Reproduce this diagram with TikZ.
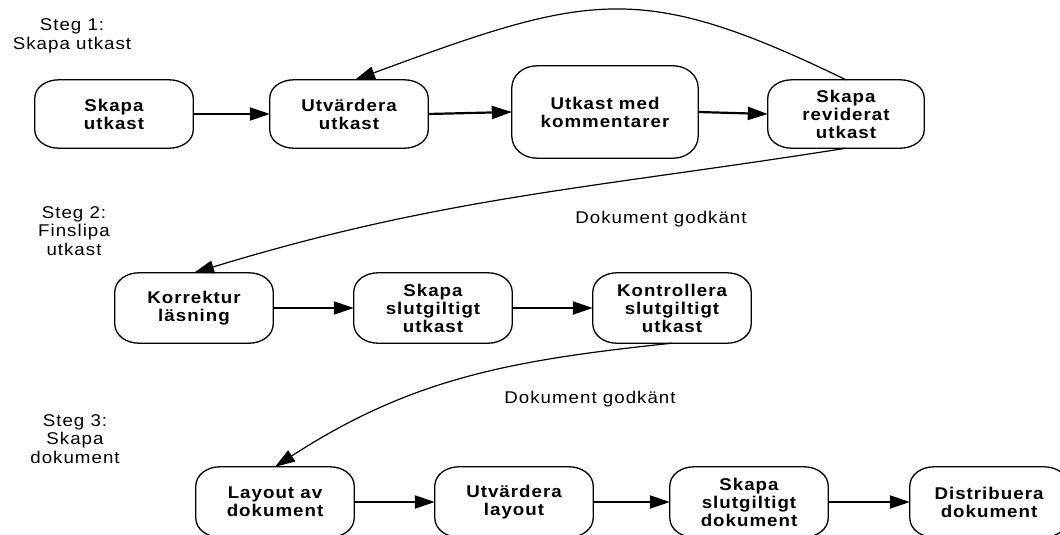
\documentclass[tikz,border=0pt]{standalone}
\usepackage{fontspec}
\setmainfont{Liberation Sans}[FakeStretch=1.1, LetterSpace=6]
\usetikzlibrary{arrows.meta}

% rounded process box outline with elliptical corners, drawn round a named node
\newcommand\pillbox[3]{%
  \draw[boxline]
    ([xshift=#2]#1.north west) -- ([xshift=-#2]#1.north east)
    arc[start angle=90, end angle=0, x radius=#2, y radius=#3]
    -- ([yshift=#3]#1.south east)
    arc[start angle=0, end angle=-90, x radius=#2, y radius=#3]
    -- ([xshift=#2]#1.south west)
    arc[start angle=270, end angle=180, x radius=#2, y radius=#3]
    -- ([yshift=-#3]#1.north west)
    arc[start angle=180, end angle=90, x radius=#2, y radius=#3] -- cycle;}

\tikzset{
  proc/.style={minimum width=158pt, minimum height=68pt, inner sep=0pt,
    align=center, font=\bfseries\fontsize{17}{18}\selectfont},
  lbl/.style={align=center, inner sep=0pt, font=\fontsize{17}{18.5}\selectfont},
  boxline/.style={line width=1.3pt},
  tip/.style={-{Triangle[length=20pt,width=13pt]}},
  flow/.style={tip, line width=2.2pt},
  back/.style={tip, line width=1.2pt},
}

\begin{document}
\begin{tikzpicture}[x=1pt, y=-1pt]
\useasboundingbox (0,0) rectangle (1060,535);

% stage labels
\node[lbl] (s1) at (72,36)  {Steg 1:\\Skapa utkast};
\node[lbl] (s2) at (74,231) {Steg 2:\\Finslipa\\utkast};
\node[lbl] (s3) at (75,439) {Steg 3:\\Skapa\\dokument};

% step 1
\node[proc] (a1) at (114,114) {Skapa\\utkast};
\node[proc] (a2) at (349,114) {Utvärdera\\utkast};
\node[proc, minimum width=186pt, minimum height=92pt] (a3) at (605,112) {Utkast med\\kommentarer};
\node[proc, minimum width=156pt] (a4) at (846,114) {Skapa\\reviderat\\utkast};

% step 2
\node[proc, minimum height=70pt] (b1) at (194,308) {Korrektur\\läsning};
\node[proc, minimum height=70pt] (b2) at (433,308) {Skapa\\slutgiltigt\\utkast};
\node[proc, minimum height=70pt] (b3) at (672,308) {Kontrollera\\slutgiltigt\\utkast};

% step 3
\node[proc, minimum height=70pt] (c1) at (275,502) {Layout av\\dokument};
\node[proc, minimum height=70pt] (c2) at (514,502) {Utvärdera\\layout};
\node[proc, minimum height=70pt] (c3) at (749,502) {Skapa\\slutgiltigt\\dokument};
\node[proc, minimum height=70pt] (c4) at (989,502) {Distribuera\\dokument};

\pillbox{a1}{24pt}{18pt}
\pillbox{a2}{24pt}{18pt}
\pillbox{a3}{25pt}{22pt}
\pillbox{a4}{24pt}{18pt}
\pillbox{b1}{24pt}{19pt}
\pillbox{b2}{24pt}{19pt}
\pillbox{b3}{24pt}{19pt}
\pillbox{c1}{24pt}{19pt}
\pillbox{c2}{24pt}{19pt}
\pillbox{c3}{24pt}{19pt}
\pillbox{c4}{24pt}{19pt}

% approval labels
\node[lbl] (g1) at (661,219) {Dokument godkänt};
\node[lbl] (g2) at (590,399) {Dokument godkänt};

% forward flow
\draw[flow] (a1.east) -- (a2.west);
\draw[flow] (a2.east) -- (a3.west);
\draw[flow] (a3.east) -- (a4.west);
\draw[flow] (b1.east) -- (b2.west);
\draw[flow] (b2.east) -- (b3.west);
\draw[flow] (c1.east) -- (c2.west);
\draw[flow] (c2.east) -- (c3.west);
\draw[flow] (c3.east) -- (c4.west);

% revision loop and hand-over between stages
\draw[back] (a4.north) .. controls (640,-20) and (590,-7) .. ([xshift=6pt]a2.north);
\draw[back] (a4.south) to[out=189, in=17] (b1.north);
\draw[back] (b3.south) to[out=186, in=33] (c1.north);
\end{tikzpicture}
\end{document}
